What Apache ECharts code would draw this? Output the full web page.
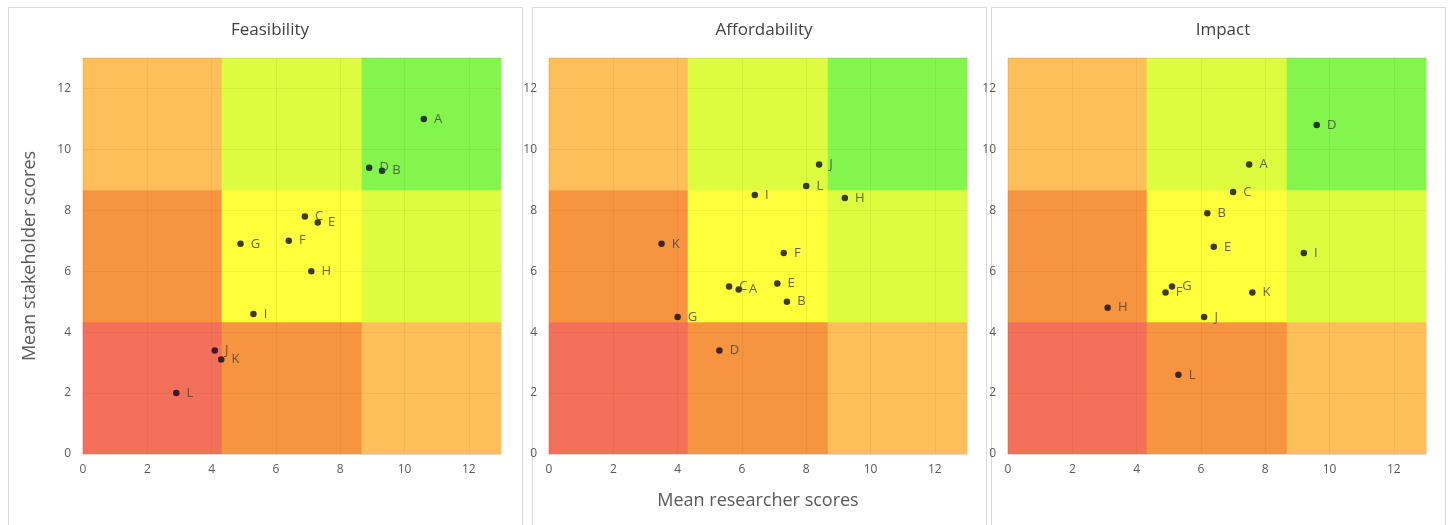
<!DOCTYPE html>
<html>
<head>
<meta charset="utf-8">
<script src="https://cdn.jsdelivr.net/npm/echarts@6/dist/echarts.min.js"></script>
<style>
html,body{margin:0;padding:0;background:#fff;}
#c{width:1448px;height:525px;}
</style>
</head>
<body>
<div id="c"></div>
<script>
// ---- data ----
var names = ['A','B','C','D','E','F','G','H','I','J','K','L'];
var panelTitles = ['Feasibility','Affordability','Impact'];
var feasX = [10.6, 9.3, 6.9, 8.9, 7.3, 6.4, 4.9, 7.1, 5.3, 4.1, 4.3, 2.9];
var feasY = [11.0, 9.3, 7.8, 9.4, 7.6, 7.0, 6.9, 6.0, 4.6, 3.4, 3.1, 2.0];
var affX  = [5.9, 7.4, 5.6, 5.3, 7.1, 7.3, 4.0, 9.2, 6.4, 8.4, 3.5, 8.0];
var affY  = [5.4, 5.0, 5.5, 3.4, 5.6, 6.6, 4.5, 8.4, 8.5, 9.5, 6.9, 8.8];
var impX  = [7.5, 6.2, 7.0, 9.6, 6.4, 4.9, 5.1, 3.1, 9.2, 6.1, 7.6, 5.3];
var impY  = [9.5, 7.9, 8.6, 10.8, 6.8, 5.3, 5.5, 4.8, 6.6, 4.5, 5.3, 2.6];
var zoneBounds = [0, 13/3, 26/3, 13];
// zone colour by [row (y, bottom→top)][col (x, left→right)]
var zoneColors = [
  ['#F4705A', '#F7943F', '#FDBF59'],
  ['#F7943F', '#FFFF3C', '#DDFC40'],
  ['#FDBF59', '#DDFC40', '#84F54D']
];
var axisMax = 13, axisInterval = 2;
var xAxisName = 'Mean researcher scores';
var yAxisName = 'Mean stakeholder scores';

var seriesX = [feasX, affX, impX];
var seriesY = [feasY, affY, impY];

// ---- layout ----
var panels = [
  {x: 8, w: 514, gl: 83},
  {x: 532, w: 454, gl: 549},
  {x: 991, w: 454, gl: 1008}
];
var gridTop = 58, gridW = 418, gridH = 396;

var chart = echarts.init(document.getElementById('c'), null, {renderer: 'canvas'});

var grids = [], xAxes = [], yAxes = [], series = [], titles = [], graphics = [];

var cells = [];
for (var r = 0; r < 3; r++) for (var c = 0; c < 3; c++) {
  cells.push([zoneBounds[c], zoneBounds[c+1], zoneBounds[r], zoneBounds[r+1], zoneColors[r][c]]);
}

panels.forEach(function (p, i) {
  graphics.push({
    type: 'rect', z: -10, silent: true,
    shape: {x: p.x + 0.5, y: 7.5, width: p.w, height: 530},
    style: {fill: '#fff', stroke: '#d9d9d9', lineWidth: 1}
  });
  titles.push({
    text: panelTitles[i], left: p.x + p.w / 2, top: 17, textAlign: 'center',
    textStyle: {fontFamily: 'Open Sans', fontSize: 17, fontWeight: 'normal', color: '#404040'}
  });
  grids.push({left: p.gl, top: gridTop, width: gridW, height: gridH, containLabel: false});
  xAxes.push({
    type: 'value', gridIndex: i, min: 0, max: axisMax, interval: axisInterval, z: 2,
    axisLine: {show: true, lineStyle: {color: '#d9d9d9'}},
    axisTick: {show: false},
    axisLabel: {color: '#595959', fontFamily: 'Open Sans', fontSize: 12, margin: 10, showMaxLabel: false},
    splitLine: {show: true, lineStyle: {color: 'rgba(120,60,0,0.08)', width: 1}},
    name: i === 1 ? xAxisName : '', nameLocation: 'middle', nameGap: 38,
    nameTextStyle: {fontFamily: 'Open Sans', fontSize: 18, color: '#595959'}
  });
  yAxes.push({
    type: 'value', gridIndex: i, min: 0, max: axisMax, interval: axisInterval, z: 2,
    axisLine: {show: false}, axisTick: {show: false},
    axisLabel: {show: true, color: '#595959', fontFamily: 'Open Sans', fontSize: 12, margin: 12, showMaxLabel: false},
    splitLine: {show: true, lineStyle: {color: 'rgba(120,60,0,0.08)', width: 1}},
    name: i === 0 ? yAxisName : '', nameLocation: 'middle', nameGap: 44, nameRotate: 90,
    nameTextStyle: {fontFamily: 'Open Sans', fontSize: 18, color: '#595959'}
  });
  series.push({
    type: 'custom', xAxisIndex: i, yAxisIndex: i, z: 1, silent: true,
    data: cells,
    renderItem: function (params, api) {
      var p0 = api.coord([api.value(0), api.value(2)]);
      var p1 = api.coord([api.value(1), api.value(3)]);
      var x0 = Math.round(p0[0]), x1 = Math.round(p1[0]);
      var yb = Math.round(p0[1]), yt = Math.round(p1[1]);
      var col = cells[params.dataIndex][4];
      return {
        type: 'rect',
        shape: {x: x0, y: yt, width: x1 - x0, height: yb - yt},
        style: {fill: col, stroke: col, lineWidth: 0.6}
      };
    },
    encode: {x: [0, 1], y: [2, 3]}
  });
  series.push({
    type: 'scatter', xAxisIndex: i, yAxisIndex: i, z: 5,
    symbolSize: 6.5,
    itemStyle: {color: '#0a0a23'},
    label: {show: true, position: 'right', distance: 7, formatter: '{b}',
      fontFamily: 'Open Sans', fontSize: 13, color: '#404040'},
    data: names.map(function (n, k) { return {name: n, value: [seriesX[i][k], seriesY[i][k]]}; })
  });
});

chart.setOption({
  animation: false,
  backgroundColor: '#fff',
  title: titles,
  grid: grids,
  xAxis: xAxes,
  yAxis: yAxes,
  graphic: graphics,
  series: series
});
</script>
</body>
</html>
